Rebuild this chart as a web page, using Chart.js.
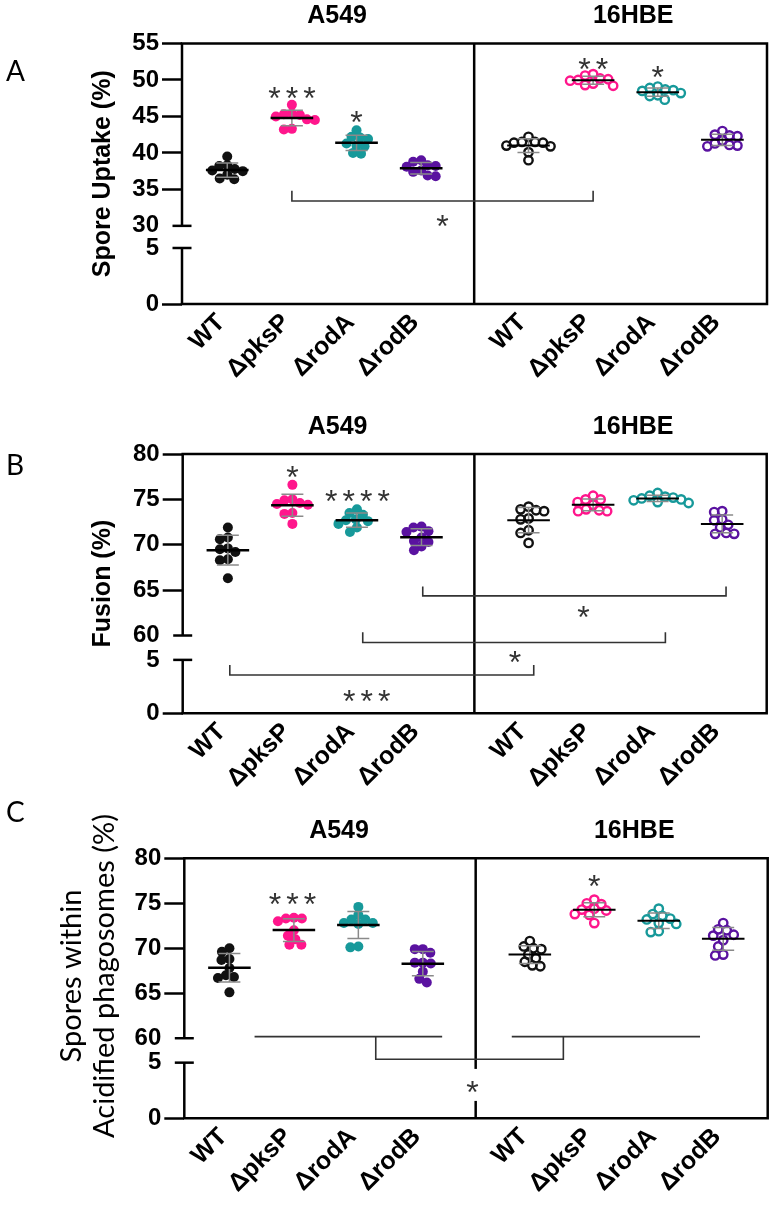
<!DOCTYPE html>
<html>
<head>
<meta charset="utf-8">
<script src="https://cdn.jsdelivr.net/npm/chart.js@4.4.1/dist/chart.umd.min.js"></script>
<style>
  body { margin: 0; background: #fff; width: 777px; height: 1207px; position: relative; overflow: hidden; }
  canvas { position: absolute; left: 0; }
</style>
</head>
<body>
<canvas id="chartA" width="777" height="392" style="top:0"></canvas>
<canvas id="chartB" width="777" height="398" style="top:392px"></canvas>
<canvas id="chartC" width="777" height="417" style="top:790px"></canvas>
<script>
// groups and cell lines
const groups = ["WT", "ΔpksP", "ΔrodA", "ΔrodB"];
const cellLines = ["A549", "16HBE"];
const groupColors = ["#111111", "#ff168c", "#17999a", "#5a12a0"];

// A: spore uptake (%)
const uptakeA549 = [
  [39.5, 38.3, 38.2, 37.8, 37.6, 37.5, 37.0, 36.5, 36.4],
  [46.6, 45.4, 45.3, 45.2, 45.0, 44.6, 44.5, 43.3, 43.2],
  [43.1, 42.2, 42.1, 41.9, 41.3, 41.0, 40.9, 40.0, 39.9],
  [39.0, 38.8, 38.3, 38.2, 38.1, 37.6, 37.4, 36.9, 36.8]
];
const uptake16HBE = [
  [42.2, 41.5, 41.5, 41.4, 41.4, 41.0, 40.9, 40.1, 39.0],
  [50.8, 50.6, 50.2, 50.1, 50.0, 49.9, 49.5, 49.3, 49.2],
  [49.1, 48.9, 48.7, 48.6, 48.5, 48.2, 47.9, 47.8, 47.3],
  [43.0, 42.5, 42.4, 42.3, 41.7, 41.3, 41.1, 41.0, 40.9]
];
// B: fusion (%)
const fusionA549 = [
  [71.9, 70.8, 70.6, 69.6, 69.5, 69.2, 68.4, 68.3, 66.3],
  [76.6, 75.0, 74.9, 74.6, 74.5, 74.4, 73.5, 73.4, 72.3],
  [73.9, 73.5, 73.3, 72.8, 72.7, 72.6, 72.3, 71.9, 71.4],
  [72.0, 71.9, 71.5, 71.4, 70.8, 70.4, 70.3, 69.8, 69.4]
];
const fusion16HBE = [
  [74.2, 73.9, 73.8, 73.7, 72.9, 72.8, 71.6, 71.3, 70.2],
  [75.4, 75.0, 75.0, 74.7, 74.4, 73.9, 73.8, 73.7, 73.7],
  [75.7, 75.4, 75.3, 75.2, 75.1, 75.0, 74.9, 74.7, 74.6],
  [73.7, 73.6, 72.8, 72.7, 72.2, 71.9, 71.3, 71.2, 71.2]
];
// C: spores within acidified phagosomes (%)
const acidA549 = [
  [70.0, 69.6, 68.8, 68.7, 67.8, 67.0, 66.8, 66.7, 65.1],
  [73.4, 73.3, 73.3, 73.0, 72.0, 71.4, 71.0, 70.4, 70.4],
  [74.6, 73.7, 73.2, 73.2, 72.8, 72.8, 72.7, 70.2, 70.1],
  [69.9, 69.9, 69.5, 68.4, 68.4, 68.3, 67.4, 66.6, 66.2]
];
const acid16HBE = [
  [70.8, 70.2, 70.0, 69.9, 69.3, 68.9, 68.5, 68.1, 68.0],
  [75.4, 75.0, 74.9, 74.4, 74.3, 74.2, 73.8, 73.7, 72.8],
  [74.4, 73.8, 73.6, 73.3, 73.2, 72.8, 72.7, 71.9, 71.8],
  [72.8, 72.1, 72.0, 71.5, 71.4, 70.9, 70.2, 69.3, 69.2]
];

// y tick labels (broken axes)
const ticksUptake = [0, 5, 30, 35, 40, 45, 50, 55];
const ticksPercent = [0, 5, 60, 65, 70, 75, 80];

// layout of the x axis, in group units
const UNIT_PX = 64.6;
const A549_START = 0.7, HBE_START = 5.36, DIVIDER = 4.52, X_MAX = 9.05;
const TITLE_POS = [2.4, 6.98];
function groupPos(line, g) { return (line ? HBE_START : A549_START) + g; }
const tickPositions = [0, 1, 2, 3].map(g => groupPos(0, g)).concat([0, 1, 2, 3].map(g => groupPos(1, g)));

// linear scale with a break between lowMax and highMin
class BrokenScale extends Chart.LinearScale {
  determineDataLimits() {
    const b = this.options.brk;
    this.min = b.lowMin;
    this.max = b.highMax;
  }
  buildTicks() {
    return this.options.brk.tickValues.map(v => ({ value: v }));
  }
  segs() {
    const b = this.options.brk;
    const h = this.bottom - this.top;
    const low = h * b.lowFrac, gap = h * b.gapFrac;
    return [
      [b.lowMin, b.lowMax, this.bottom, this.bottom - low],
      [b.lowMax, b.highMin, this.bottom - low, this.bottom - low - gap],
      [b.highMin, b.highMax, this.bottom - low - gap, this.top]
    ];
  }
  getPixelForValue(v) {
    const s = this.segs();
    for (let i = 0; i < s.length; i++) {
      const [v0, v1, p0, p1] = s[i];
      if (v <= v1 || i === s.length - 1) return p0 + (v - v0) / (v1 - v0) * (p1 - p0);
    }
  }
  getValueForPixel(p) {
    for (const [v0, v1, p0, p1] of this.segs()) {
      if (p >= p1) return v0 + (p - p0) / (p1 - p0) * (v1 - v0);
    }
    return this.options.brk.highMax;
  }
}
BrokenScale.id = "broken";
BrokenScale.defaults = Chart.LinearScale.defaults;
Chart.register(BrokenScale);

function mean(a) { return a.reduce((s, v) => s + v, 0) / a.length; }
function sd(a) {
  const m = mean(a);
  return Math.sqrt(a.reduce((s, v) => s + (v - m) * (v - m), 0) / (a.length - 1));
}

// simple beeswarm: horizontal offsets (in x units) so dots do not overlap much
function swarm(vals, pxPerY) {
  const d = 8;
  const placed = [];
  const offs = new Array(vals.length);
  const order = vals.map((v, i) => i).sort((a, b) => vals[b] - vals[a]);
  order.forEach(i => {
    const yp = vals[i] * pxPerY;
    let best = 0;
    for (let k = 0; k < 200; k++) {
      const o = (k % 2 ? -1 : 1) * Math.ceil(k / 2) * 0.5;
      if (placed.every(p => Math.hypot(p.x - o, p.y - yp) >= d)) { best = o; break; }
    }
    placed.push({ x: best, y: yp });
    offs[i] = best / UNIT_PX;
  });
  return offs;
}

function makeFramePlugin(p) {
  return {
    id: "frame" + p.letter,
    afterDraw(chart) {
      const { ctx, chartArea: a, scales: { x, y } } = chart;
      const seg = pts => {
        ctx.beginPath();
        pts.forEach(([px, py], i) => (i ? ctx.lineTo(px, py) : ctx.moveTo(px, py)));
        ctx.stroke();
      };
      ctx.save();
      // broken y axis and frame
      ctx.strokeStyle = "#000";
      ctx.lineWidth = 2.5;
      const yb1 = y.getPixelForValue(p.brk.highMin);
      const yb2 = y.getPixelForValue(p.brk.lowMax);
      seg([[a.left, a.top], [a.left, yb1]]);
      seg([[a.left, yb2], [a.left, a.bottom]]);
      seg([[a.left - 9.5, yb1], [a.left + 9.5, yb1]]);
      seg([[a.left - 9.5, yb2], [a.left + 9.5, yb2]]);
      seg([[a.left - 1.25, a.top], [a.right, a.top], [a.right, a.bottom], [a.left - 1.25, a.bottom]]);
      const xd = x.getPixelForValue(DIVIDER);
      seg([[xd, a.top], [xd, a.bottom]]);

      // comparison brackets
      ctx.strokeStyle = "#333";
      ctx.lineWidth = 1.6;
      p.paths.forEach(path => seg(path.map(([vx, vy]) => [x.getPixelForValue(vx), y.getPixelForValue(vy)])));

      // significance stars
      ctx.font = '32px "Liberation Sans"';
      ctx.textAlign = "center";
      ctx.textBaseline = "alphabetic";
      p.stars.forEach(s => {
        const cx = x.getPixelForValue(s.x), cy = y.getPixelForValue(s.y);
        if (s.box) {
          ctx.fillStyle = "#fff";
          ctx.fillRect(cx - 10, cy - 16, 20, 32);
        }
        ctx.fillStyle = "#333";
        for (let k = 0; k < s.n; k++) ctx.fillText("*", cx + (k - (s.n - 1) / 2) * 17.5, cy + 18.5);
      });

      // cell line headers
      ctx.fillStyle = "#000";
      ctx.font = 'bold 25px "Liberation Sans"';
      ctx.textBaseline = "middle";
      cellLines.forEach((t, i) => ctx.fillText(t, x.getPixelForValue(TITLE_POS[i]), a.top - 27));

      // two-line y title (panel C)
      if (p.yLines) {
        ctx.font = "29px Lato";
        p.yLines.forEach((t, i) => {
          ctx.save();
          ctx.translate(p.yLineX[i], p.yLineY);
          ctx.rotate(-Math.PI / 2);
          ctx.fillText(t, 0, 0);
          ctx.restore();
        });
      }

      // panel letter
      ctx.font = "28px Lato";
      ctx.textAlign = "left";
      ctx.fillText(p.letter, 6, p.letterY);
      ctx.restore();
    }
  };
}

function makeChart(p) {
  const b = p.brk;
  const pxY = (p.area.bottom - p.area.top) * (1 - b.lowFrac - b.gapFrac) / (b.highMax - b.highMin);
  const datasets = [];
  p.series.forEach((series, line) => {
    series.forEach((vals, g) => {
      const pos = groupPos(line, g);
      const color = groupColors[g];
      const offs = swarm(vals, pxY);
      datasets.push({
        type: "scatter",
        data: vals.map((v, i) => ({ x: pos + offs[i], y: v })),
        pointRadius: line ? 4.2 : 5,
        pointBackgroundColor: line ? "rgba(255,255,255,0)" : color,
        pointBorderColor: color,
        pointBorderWidth: line ? 2.4 : 0,
        order: 3
      });
      const m = mean(vals), s = sd(vals);
      datasets.push({
        type: "line",
        data: [
          { x: pos - 0.17, y: m + s }, { x: pos + 0.17, y: m + s }, { x: pos, y: null },
          { x: pos, y: m + s }, { x: pos, y: m - s }, { x: pos, y: null },
          { x: pos - 0.17, y: m - s }, { x: pos + 0.17, y: m - s }
        ],
        borderColor: "#8a8a8a",
        borderWidth: 1.5,
        pointRadius: 0,
        spanGaps: false,
        order: 2
      });
      datasets.push({
        type: "line",
        data: [{ x: pos - 0.33, y: m }, { x: pos + 0.33, y: m }],
        borderColor: "#000",
        borderWidth: line ? 2 : 2.5,
        pointRadius: 0,
        order: 1
      });
    });
  });

  const isBreak = v => v === b.highMin || v === b.lowMax;
  return new Chart(document.getElementById(p.canvas), {
    type: "scatter",
    data: { datasets },
    options: {
      responsive: false,
      animation: false,
      events: [],
      layout: { padding: { top: p.area.top, right: 777 - p.area.right, left: 0, bottom: 0 } },
      plugins: { legend: { display: false }, tooltip: { enabled: false } },
      scales: {
        x: {
          type: "linear",
          min: 0,
          max: X_MAX,
          afterFit: s => { s.height = p.height - p.area.bottom; },
          afterBuildTicks: s => { s.ticks = tickPositions.map(v => ({ value: v })); },
          grid: { display: false, drawTicks: false },
          border: { display: false },
          ticks: {
            autoSkip: false,
            minRotation: 45,
            maxRotation: 45,
            padding: 4,
            labelOffset: -6,
            color: "#000",
            font: { family: "Liberation Sans", size: 25, weight: "bold" },
            callback: (v, i) => groups[i % 4]
          }
        },
        y: {
          type: "broken",
          brk: b,
          afterFit: s => { s.width = p.area.left; },
          border: { display: false },
          grid: {
            drawOnChartArea: false,
            tickLength: 20,
            tickWidth: 2.5,
            tickColor: c => (c.tick && isBreak(c.tick.value) ? "rgba(0,0,0,0)" : "#000")
          },
          ticks: {
            padding: 3,
            color: "#000",
            font: { family: "Liberation Sans", size: 24, weight: "bold" },
            callback: v => String(v)
          },
          title: p.yTitle
        }
      }
    },
    plugins: [makeFramePlugin(p)]
  });
}

makeChart({
  canvas: "chartA", letter: "A", letterY: 72, height: 392,
  area: { left: 182, right: 767, top: 43.5, bottom: 304 },
  brk: { lowMin: 0, lowMax: 5, highMin: 30, highMax: 55, lowFrac: 0.215, gapFrac: 0.085, tickValues: ticksUptake },
  series: [uptakeA549, uptake16HBE],
  yTitle: {
    display: true, text: "Spore Uptake (%)", color: "#000",
    font: { family: "Liberation Sans", size: 25, weight: "bold" },
    padding: { top: 88, bottom: 0 }
  },
  stars: [
    { n: 3, x: groupPos(0, 1), y: 48.6 },
    { n: 1, x: groupPos(0, 2), y: 45.2 },
    { n: 2, x: groupPos(1, 1), y: 52.5 },
    { n: 1, x: groupPos(1, 2), y: 51.5 },
    { n: 1, x: 4.03, y: 31.0 }
  ],
  paths: [
    [[groupPos(0, 1), 34.8], [groupPos(0, 1), 33.4], [groupPos(1, 1), 33.4], [groupPos(1, 1), 34.8]]
  ]
});

makeChart({
  canvas: "chartB", letter: "B", letterY: 74, height: 398,
  area: { left: 182.7, right: 766.7, top: 62, bottom: 321.3 },
  brk: { lowMin: 0, lowMax: 5, highMin: 60, highMax: 80, lowFrac: 0.206, gapFrac: 0.094, tickValues: ticksPercent },
  series: [fusionA549, fusion16HBE],
  yTitle: {
    display: true, text: "Fusion (%)", color: "#000",
    font: { family: "Liberation Sans", size: 25, weight: "bold" },
    padding: { top: 88, bottom: 0 }
  },
  stars: [
    { n: 1, x: groupPos(0, 1), y: 78.24 },
    { n: 4, x: 2.71, y: 75.67 },
    { n: 1, x: 6.21, y: 62.83 },
    { n: 1, x: 5.15, y: 16.3 },
    { n: 3, x: 2.85, y: 1.88 }
  ],
  paths: [
    [[3.72, 65.4], [3.72, 64.37], [8.42, 64.37], [8.42, 65.4]],
    [[2.79, 60.37], [2.79, 44.2], [7.48, 44.2], [7.48, 60.37]],
    [[0.73, 4.53], [0.73, 3.59], [5.44, 3.59], [5.44, 4.53]]
  ]
});

makeChart({
  canvas: "chartC", letter: "C", letterY: 23, height: 417,
  area: { left: 184.3, right: 767.7, top: 68.3, bottom: 328.3 },
  brk: { lowMin: 0, lowMax: 5, highMin: 60, highMax: 80, lowFrac: 0.214, gapFrac: 0.094, tickValues: ticksPercent },
  series: [acidA549, acid16HBE],
  yTitle: { display: false },
  yLines: ["Spores within", "Acidified phagosomes (%)"],
  yLineX: [72, 105],
  yLineY: 186,
  stars: [
    { n: 3, x: 1.68, y: 75.73 },
    { n: 1, x: groupPos(1, 1), y: 77.78 },
    { n: 1, x: 4.47, y: 3.0, box: true }
  ],
  paths: [
    [[1.09, 60.18], [4.0, 60.18]],
    [[5.08, 60.18], [8.0, 60.18]],
    [[2.97, 60.18], [2.97, 12.7], [5.88, 12.7], [5.88, 60.18]]
  ]
});
</script>
</body>
</html>
